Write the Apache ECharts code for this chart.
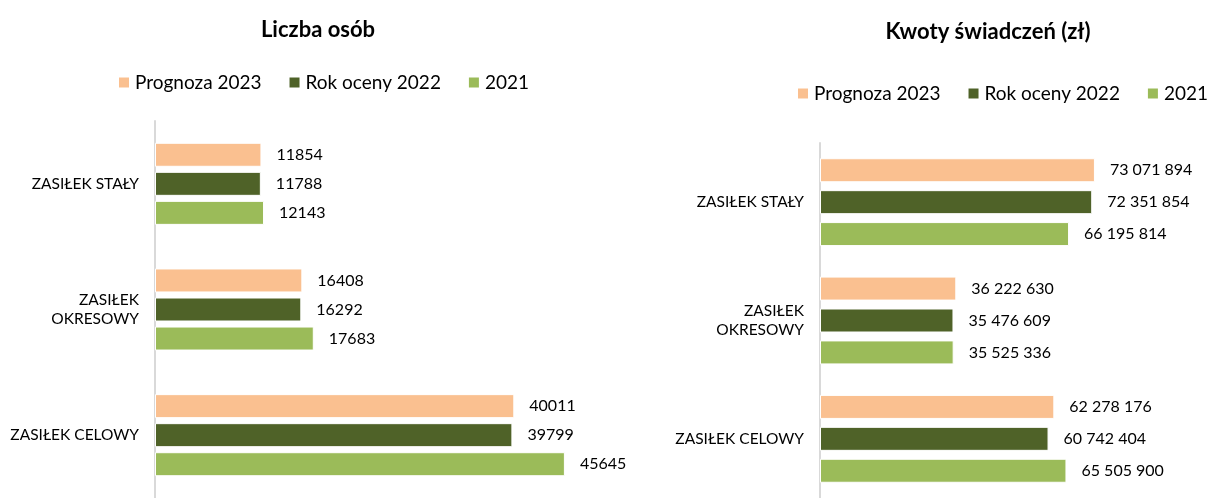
<!DOCTYPE html>
<html>
<head>
<meta charset="utf-8">
<script src="https://cdn.jsdelivr.net/npm/echarts@6/dist/echarts.min.js"></script>
<style>
  html, body { margin: 0; padding: 0; background: #fff; }
  #main { width: 1210px; height: 498px; }
</style>
</head>
<body>
<div id="main"></div>
<script>
const categories = ["ZASIŁEK STAŁY", "ZASIŁEK\nOKRESOWY", "ZASIŁEK CELOWY"];
const seriesNames = ["Prognoza 2023", "Rok oceny 2022", "2021"];
const colors = ["#FAC090", "#4F6228", "#9BBB59"];

// Liczba osób
const persons2023 = [11854, 16408, 40011];
const persons2022 = [11788, 16292, 39799];
const persons2021 = [12143, 17683, 45645];

// Kwoty świadczeń (zł)
const amounts2023 = [73071894, 36222630, 62278176];
const amounts2022 = [72351854, 35476609, 60742404];
const amounts2021 = [66195814, 35525336, 65505900];

const font = "Lato, 'Open Sans', sans-serif";

const spaced = v => String(v).replace(/\B(?=(\d{3})+(?!\d))/g, " ");

const chart = echarts.init(document.getElementById("main"));

const makeSeries = (data, idx, axis, gap, fmt) => ({
  name: seriesNames[idx],
  type: "bar",
  xAxisIndex: axis,
  yAxisIndex: axis,
  barWidth: 24,
  barGap: gap,
  data: data,
  itemStyle: { color: colors[idx], borderColor: "#ffffff", borderWidth: 1 },
  label: {
    show: true,
    position: "right",
    distance: 15,
    color: "#000",
    fontFamily: font,
    fontSize: 16,
    formatter: p => fmt(p.value)
  }
});

const catAxis = (gridIndex) => ({
  type: "category",
  gridIndex: gridIndex,
  inverse: true,
  data: categories,
  axisLine: { show: true, lineStyle: { color: "#D9D9D9", width: 2 } },
  axisTick: { show: false },
  axisLabel: {
    margin: 16,
    color: "#000",
    fontFamily: font,
    fontSize: 15.5,
    lineHeight: 19,
    align: "right"
  }
});

const legendBase = {
  itemWidth: 12,
  itemHeight: 12,
  itemGap: 26,
  icon: "rect",
  width: 460,
  textStyle: { color: "#000", fontFamily: font, fontSize: 19 },
  data: seriesNames
};

chart.setOption({
  animation: false,
  color: colors,
  title: [
    {
      text: "Liczba osób",
      left: 313,
      textAlign: "center",
      top: 14,
      textStyle: { fontFamily: font, fontSize: 22, fontWeight: "bold", color: "#000" }
    },
    {
      text: "Kwoty świadczeń (zł)",
      left: 983,
      textAlign: "center",
      top: 16,
      textStyle: { fontFamily: font, fontSize: 22, fontWeight: "bold", color: "#000" }
    }
  ],
  legend: [
    Object.assign({}, legendBase, { left: 112, top: 68 }),
    Object.assign({}, legendBase, { left: 791, top: 79 })
  ],
  grid: [
    { left: 155, top: 121, width: 449, height: 384 },
    { left: 820, top: 143, width: 301, height: 356 }
  ],
  xAxis: [
    { type: "value", gridIndex: 0, min: 0, max: 50000, show: false },
    { type: "value", gridIndex: 1, min: 0, max: 80000000, show: false }
  ],
  yAxis: [catAxis(0), catAxis(1)],
  series: [
    makeSeries(persons2023, 0, 0, "21%", v => String(v)),
    makeSeries(persons2022, 1, 0, "21%", v => String(v)),
    makeSeries(persons2021, 2, 0, "21%", v => String(v)),
    makeSeries(amounts2023, 0, 1, "33%", spaced),
    makeSeries(amounts2022, 1, 1, "33%", spaced),
    makeSeries(amounts2021, 2, 1, "33%", spaced)
  ]
});
</script>
</body>
</html>
